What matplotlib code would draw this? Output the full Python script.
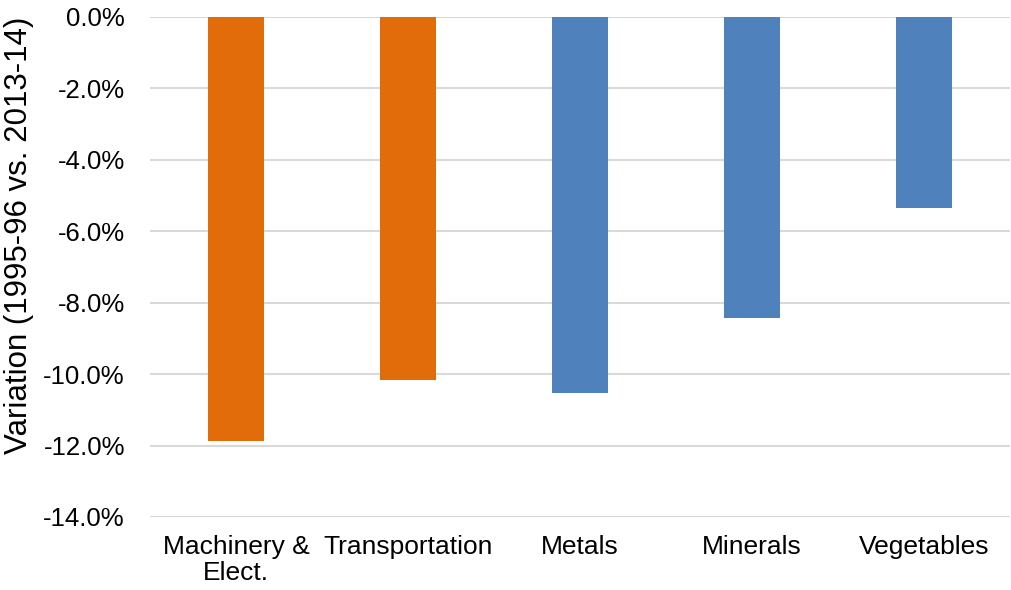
import matplotlib
matplotlib.use("Agg")
import matplotlib.pyplot as plt
from matplotlib.ticker import FuncFormatter, MultipleLocator

categories = ["Machinery &\nElect.", "Transportation", "Metals", "Minerals", "Vegetables"]
values = [-11.88, -10.17, -10.52, -8.43, -5.35]
colors = ["#E36C0A", "#E36C0A", "#4F81BD", "#4F81BD", "#4F81BD"]

plt.rcParams["font.family"] = ["Liberation Sans", "DejaVu Sans"]

W, H = 1012, 590
fig = plt.figure(figsize=(W / 100, H / 100), dpi=100)
ax = fig.add_axes([150 / W, 1 - 517 / H, 860 / W, 500 / H])

x = range(len(categories))
ax.bar(x, values, width=0.32, color=colors, zorder=3)

ax.set_xlim(-0.5, len(categories) - 0.5)
ax.set_ylim(-14, 0)
ax.yaxis.set_major_locator(MultipleLocator(2))
ax.yaxis.set_major_formatter(FuncFormatter(lambda v, p: f"{v:.1f}%" if abs(v) > 1e-9 else "0.0%"))
ax.grid(axis="y", color="#D9D9D9", linewidth=1.5, zorder=0)
ax.set_axisbelow(True)
for s in ax.spines.values():
    s.set_visible(False)

ax.set_xticks(list(x))
ax.set_xticklabels(categories, fontsize=19, linespacing=1.12)
ax.tick_params(axis="x", length=0, pad=13)
ax.tick_params(axis="y", length=0, pad=18, labelsize=18.5)

fig.text(19 / W, 1 - 235 / H, "Variation (1995-96 vs. 2013-14)", fontsize=22.5,
         rotation=90, ha="center", va="center")

fig.savefig("out.png", dpi=100)
